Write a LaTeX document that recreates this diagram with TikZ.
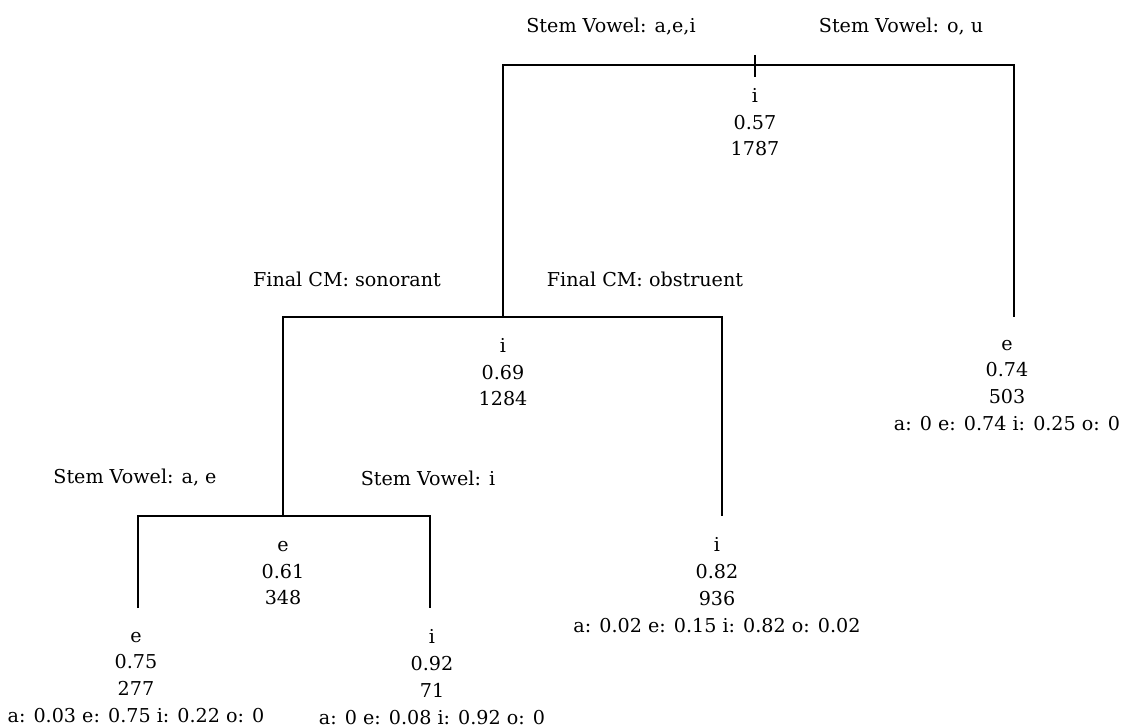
\documentclass[tikz,border=0pt]{standalone}
\usepackage{fontspec}
\setmainfont{DejaVu Serif}
\usetikzlibrary{positioning}

\begin{document}
\begin{tikzpicture}[x=0.025cm, y=-0.025cm, font=\fontsize{13.6}{19}\selectfont, every node/.style={align=center, inner sep=0pt}]
\tikzset{
  branch/.style={draw, line width=1.1pt},
  splitlabel/.style={anchor=center},
  statbox/.style={anchor=center, execute at begin node=\strut}
}
\useasboundingbox (0,0) rectangle (1122,727);
  % split points and branch ends
  \coordinate (rt) at (755,55);
  \coordinate (rb) at (755,77);
  \coordinate (rr) at (1014,65);
  \coordinate (ou) at (1014,317);
  \coordinate (fcm) at (503,317);
  \coordinate (fcmr) at (722,317);
  \coordinate (obs) at (722,516);
  \coordinate (son) at (283,516);
  \coordinate (sonr) at (430,516);
  \coordinate (svae) at (138,608);
  \coordinate (svi) at (430,608);
  % branches
  \draw[branch] (rt) -- (rb);
  \draw[branch] (fcm) |- (rr) -- (ou);
  \draw[branch] (son) |- (fcmr) -- (obs);
  \draw[branch] (svae) |- (sonr) -- (svi);
  % split labels
  \node[splitlabel] (laei) at (611,27) {Stem Vowel: a,e,i};
  \node[splitlabel] (lou) at (901,27) {Stem Vowel: o, u};
  \node[splitlabel] (lson) at (347,279) {Final CM: sonorant};
  \node[splitlabel] (lobs) at (645,279) {Final CM: obstruent};
  \node[splitlabel] (lae) at (135,478) {Stem Vowel: a, e};
  \node[splitlabel] (li) at (428,478) {Stem Vowel: i};
  % node statistics
  \node[statbox] (sroot) at (755,126) {i\\0.57\\1787};
  \node[statbox] (sfcm) at (503,376) {i\\0.69\\1284};
  \node[statbox] (sson) at (283,577) {e\\0.61\\348};
  \node[statbox] (sou) at (1007,389) {e\\0.74\\503\\a: 0 e: 0.74 i: 0.25 o: 0};
  \node[statbox] (sobs) at (717,589) {i\\0.82\\936\\a: 0.02 e: 0.15 i: 0.82 o: 0.02};
  \node[statbox] (sae) at (136,681) {e\\0.75\\277\\a: 0.03 e: 0.75 i: 0.22 o: 0};
  \node[statbox] (si) at (432,681) {i\\0.92\\71\\a: 0 e: 0.08 i: 0.92 o: 0};
\end{tikzpicture}
\end{document}
